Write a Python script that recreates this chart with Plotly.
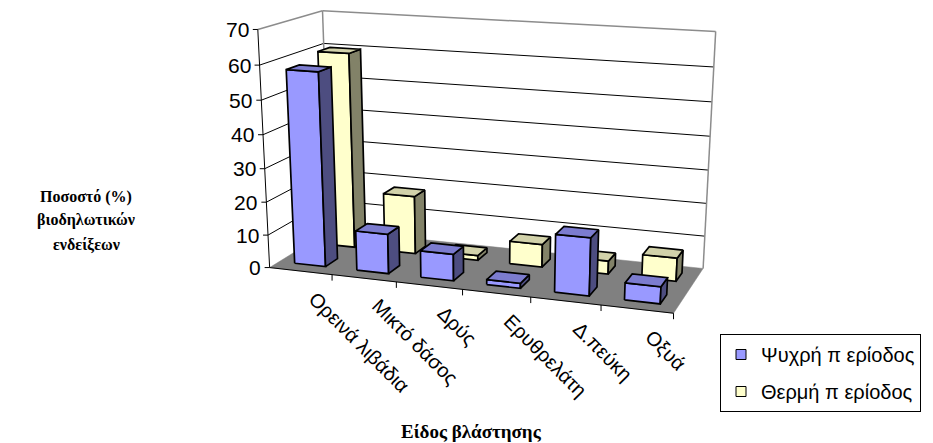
import numpy as np
import plotly.graph_objects as go

# ---------------- data ----------------
categories = ["Ορεινά λιβάδια", "Μικτό δάσος", "Δρύς", "Ερυθρελάτη", "Δ.πεύκη", "Οξυά"]
series_names = ["Ψυχρή π ερίοδος", "Θερμή π ερίοδος"]
cold_values = [58, 12, 8, 1.5, 17, 5]
warm_values = [60, 18, 1.5, 7, 4, 7]
value_ticks = [0, 10, 20, 30, 40, 50, 60, 70]

# ---------------- view ----------------
W, H = 933, 443
VMAX = 70
NCAT = len(categories)
DEPTH = 2.5      # floor depth in category units (gap depth 100%)
BAR_W = 0.5      # bar width / depth in category units (gap width 100%)

# perspective view of the original 3-D chart, fitted to its box corners
anchor_world = np.array([
    (0, 0, 0), (0, 0, VMAX), (NCAT, 0, 0), (0, DEPTH, VMAX),
    (NCAT, DEPTH, VMAX), (NCAT, DEPTH, 0), (1, 0, 0), (3, 0, 0), (5, 0, 0)], float)
anchor_px = np.array([
    (270, 267.7), (258, 29.3), (674.3, 313.3), (322.3, 10.7),
    (715.7, 31.7), (703.3, 268.3), (332, 274.7), (462.3, 289.4), (600, 304.9)], float)


def fit_camera(wp, ip):
    mw, sw = wp.mean(0), wp.std(0)
    mi, si = ip.mean(0), ip.std(0)
    Tw = np.eye(4)
    Tw[:3, :3] = np.diag(1 / sw)
    Tw[:3, 3] = -mw / sw
    Ti = np.eye(3)
    Ti[:2, :2] = np.diag(1 / si)
    Ti[:2, 2] = -mi / si
    rows = []
    for (X, Y, Z), (u, v) in zip((wp - mw) / sw, (ip - mi) / si):
        rows.append([X, Y, Z, 1, 0, 0, 0, 0, -u * X, -u * Y, -u * Z, -u])
        rows.append([0, 0, 0, 0, X, Y, Z, 1, -v * X, -v * Y, -v * Z, -v])
    _, _, vt = np.linalg.svd(np.array(rows))
    Pn = vt[-1].reshape(3, 4)
    return np.linalg.inv(Ti) @ Pn @ Tw


P = fit_camera(anchor_world, anchor_px)


def proj(x, y, z):
    p = P @ np.array([x, y, z, 1.0])
    return p[0] / p[2], p[1] / p[2]


fig = go.Figure()


def polygon(pts3d, fill, line_color="black", width=1.7):
    pts = [proj(*p) for p in pts3d]
    xs = [p[0] for p in pts] + [pts[0][0]]
    ys = [p[1] for p in pts] + [pts[0][1]]
    fig.add_trace(go.Scatter(x=xs, y=ys, mode="lines", fill="toself", fillcolor=fill,
                             line=dict(color=line_color, width=width),
                             hoverinfo="skip", showlegend=False))


def segments(segs, color, width):
    xs, ys = [], []
    for a, b in segs:
        xs += [a[0], b[0], None]
        ys += [a[1], b[1], None]
    fig.add_trace(go.Scatter(x=xs, y=ys, mode="lines", line=dict(color=color, width=width),
                             hoverinfo="skip", showlegend=False))


# gridlines on side wall + back wall
grid = []
for v in value_ticks[1:-1]:
    grid.append((proj(0, 0, v), proj(0, DEPTH, v)))
    grid.append((proj(0, DEPTH, v), proj(NCAT, DEPTH, v)))
segments(grid, "black", 1)

# wall borders
WALL = "#8c8c8c"
segments([
    (proj(0, 0, VMAX), proj(0, DEPTH, VMAX)),
    (proj(0, DEPTH, VMAX), proj(NCAT, DEPTH, VMAX)),
    (proj(NCAT, DEPTH, VMAX), proj(NCAT, DEPTH, 0)),
    (proj(0, DEPTH, 0), proj(0, DEPTH, VMAX)),
], WALL, 1.5)

# floor
polygon([(0, 0, 0), (NCAT, 0, 0), (NCAT, DEPTH, 0), (0, DEPTH, 0)], "#808080", "#808080", 0.5)

# axes
axis_segs = [(proj(0, 0, 0), proj(0, 0, VMAX)), (proj(0, 0, 0), proj(NCAT, 0, 0))]
for v in value_ticks:
    x0, y0 = proj(0, 0, v)
    axis_segs.append(((x0 - 5, y0), (x0, y0)))
for i in range(1, NCAT + 1):
    x0, y0 = proj(i, 0, 0)
    axis_segs.append(((x0, y0), (x0, y0 + 6)))
segments(axis_segs, "black", 1)

# bars
styles = [
    dict(front="#9999FF", side="#4D4D80", top="#7C7CCF"),
    dict(front="#FFFFCC", side="#828268", top="#D2D2AA"),
]


def box_faces(x0, x1, y0, y1, z0, z1):
    return [
        ("front", [(x0, y0, z0), (x1, y0, z0), (x1, y0, z1), (x0, y0, z1)]),
        ("side", [(x1, y0, z0), (x1, y1, z0), (x1, y1, z1), (x1, y0, z1)]),
        ("top", [(x0, y0, z1), (x1, y0, z1), (x1, y1, z1), (x0, y1, z1)]),
        ("side", [(x0, y1, z0), (x0, y0, z0), (x0, y0, z1), (x0, y1, z1)]),
        ("front", [(x1, y1, z0), (x0, y1, z0), (x0, y1, z1), (x1, y1, z1)]),
    ]


def visible(face):
    pts = [proj(*p) for p in face]
    a = 0.0
    for k in range(len(pts)):
        xa, ya = pts[k]
        xb, yb = pts[(k + 1) % len(pts)]
        a += xa * yb - xb * ya
    return a < 0


series_values = [cold_values, warm_values]
row_step = DEPTH / 2
for s in [1, 0]:  # back row first
    vals = series_values[s]
    y0 = row_step * s + (row_step - BAR_W) / 2
    y1 = y0 + BAR_W
    for i, v in enumerate(vals):
        x0 = i + (1 - BAR_W) / 2
        x1 = x0 + BAR_W
        for kind, face in box_faces(x0, x1, y0, y1, 0, v):
            if visible(face):
                polygon(face, styles[s][kind])

# legend entries
for s in range(2):
    fig.add_trace(go.Scatter(
        x=[None], y=[None], mode="markers", name=series_names[s], legendgroup=f"g{s}",
        marker=dict(symbol="square", size=10, color=styles[s]["front"],
                    line=dict(color="black", width=1)), hoverinfo="skip"))

annotations = []
for v in value_ticks:
    x0, y0 = proj(0, 0, v)
    annotations.append(dict(x=x0 - 7, y=y0, text=str(v), showarrow=False, xanchor="right",
                            yanchor="middle", font=dict(family="Liberation Sans", size=21, color="black")))
for i, c in enumerate(categories):
    x0, y0 = proj(i + 0.5, 0, 0)
    annotations.append(dict(x=x0 + 1, y=y0 + 14, text=c, showarrow=False, textangle=45,
                            xanchor="left", yanchor="top",
                            font=dict(family="Liberation Sans", size=20, color="black")))
for txt, yy in [("Ποσοστό (%)", 197), ("βιοδηλωτικών", 220), ("ενδείξεων", 245)]:
    annotations.append(dict(x=86, y=yy, text=f"<b>{txt}</b>", showarrow=False, xanchor="center",
                            yanchor="middle", font=dict(family="Liberation Serif", size=16, color="black")))
annotations.append(dict(x=471, y=431, text="<b>Είδος βλάστησης</b>", showarrow=False,
                        xanchor="center", yanchor="middle",
                        font=dict(family="Liberation Serif", size=19, color="black")))

fig.update_layout(
    width=W, height=H, autosize=False,
    margin=dict(l=0, r=0, t=0, b=0),
    paper_bgcolor="white", plot_bgcolor="white",
    xaxis=dict(range=[0, W], visible=False, fixedrange=True),
    yaxis=dict(range=[H, 0], visible=False, fixedrange=True),
    showlegend=True,
    legend=dict(x=720 / W, y=1 - 334 / H, xanchor="left", yanchor="top",
                bordercolor="black", borderwidth=1, bgcolor="white",
                font=dict(family="Liberation Sans", size=20, color="black"),
                tracegroupgap=8),
    annotations=annotations,
)

fig.write_html("out.html")
